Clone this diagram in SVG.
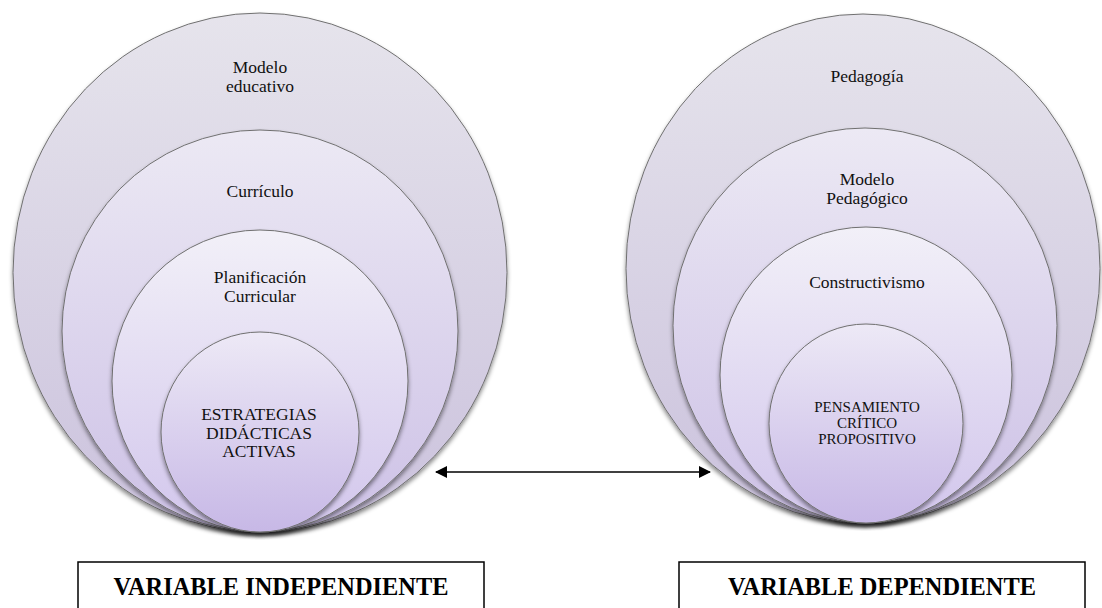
<svg xmlns="http://www.w3.org/2000/svg" width="1102" height="608" viewBox="0 0 1102 608">
<defs>
<linearGradient id="g1" x1="0" y1="0" x2="0" y2="1">
<stop offset="0" stop-color="#e6e4ec"/>
<stop offset="1" stop-color="#cbc2dd"/>
</linearGradient>
<linearGradient id="g2" x1="0" y1="0" x2="0" y2="1">
<stop offset="0" stop-color="#ece9f4"/>
<stop offset="1" stop-color="#cdc1e6"/>
</linearGradient>
<linearGradient id="g3" x1="0" y1="0" x2="0" y2="1">
<stop offset="0" stop-color="#f2f0f8"/>
<stop offset="1" stop-color="#d2c6ec"/>
</linearGradient>
<linearGradient id="g4" x1="0" y1="0" x2="0" y2="1">
<stop offset="0" stop-color="#ede9f6"/>
<stop offset="1" stop-color="#c7b8e6"/>
</linearGradient>
<filter id="sh" x="-10%" y="-10%" width="120%" height="125%">
<feDropShadow dx="0" dy="3" stdDeviation="2" flood-color="#000" flood-opacity="0.45"/>
</filter>
<marker id="ah" viewBox="0 0 12 12" refX="11" refY="6" markerWidth="12" markerHeight="12" markerUnits="userSpaceOnUse" orient="auto-start-reverse">
<path d="M0,0 L12,6 L0,12 Z" fill="#000"/>
</marker>
</defs>
<style>
.c{stroke:#707070;stroke-width:1;filter:url(#sh)}
.t{font-family:"Liberation Serif","Times New Roman",serif;font-size:17.5px;fill:#111;text-anchor:middle}
.s{font-family:"Liberation Serif","Times New Roman",serif;font-size:15px;fill:#111;text-anchor:middle}
.b{font-family:"Liberation Serif","Times New Roman",serif;font-size:24.4px;font-weight:bold;fill:#000;text-anchor:middle}
.box{fill:#fff;stroke:#000;stroke-width:1.5}
</style>
<rect width="1102" height="608" fill="#fff"/>

<g id="left-set">
<g id="modelo-educativo">
<ellipse class="c" cx="260" cy="272.5" rx="247" ry="259.5" fill="url(#g1)"/>
<text class="t" x="260" y="73">Modelo</text>
<text class="t" x="260" y="92">educativo</text>
</g>
<g id="curriculo">
<ellipse class="c" cx="260" cy="331" rx="198" ry="201" fill="url(#g2)"/>
<text class="t" x="260" y="197">Currículo</text>
</g>
<g id="planificacion">
<ellipse class="c" cx="260" cy="381" rx="148" ry="151" fill="url(#g3)"/>
<text class="t" x="260" y="283">Planificación</text>
<text class="t" x="260" y="302">Curricular</text>
</g>
<g id="estrategias">
<ellipse class="c" cx="260" cy="432" rx="99" ry="100" fill="url(#g4)"/>
<text class="t" x="259" y="420">ESTRATEGIAS</text>
<text class="t" x="259" y="439">DIDÁCTICAS</text>
<text class="t" x="259" y="457">ACTIVAS</text>
</g>
</g>

<g id="right-set">
<g id="pedagogia">
<ellipse class="c" cx="863" cy="268.5" rx="237" ry="254.5" fill="url(#g1)"/>
<text class="t" x="867" y="82">Pedagogía</text>
</g>
<g id="modelo-pedagogico">
<ellipse class="c" cx="865" cy="325.5" rx="192" ry="197.5" fill="url(#g2)"/>
<text class="t" x="867" y="185">Modelo</text>
<text class="t" x="867" y="204">Pedagógico</text>
</g>
<g id="constructivismo">
<ellipse class="c" cx="866" cy="375" rx="146" ry="148" fill="url(#g3)"/>
<text class="t" x="867" y="288">Constructivismo</text>
</g>
<g id="pensamiento">
<ellipse class="c" cx="866" cy="423.5" rx="97" ry="99.5" fill="url(#g4)"/>
<text class="s" x="867" y="412">PENSAMIENTO</text>
<text class="s" x="867" y="428">CRÍTICO</text>
<text class="s" x="867" y="444">PROPOSITIVO</text>
</g>
</g>

<g id="connectors">
<line x1="436" y1="472" x2="710" y2="472" stroke="#000" stroke-width="1.6" marker-start="url(#ah)" marker-end="url(#ah)"/>
</g>

<g id="box-independiente">
<rect class="box" x="78" y="562" width="406" height="60"/>
<text class="b" x="281" y="595">VARIABLE INDEPENDIENTE</text>
</g>
<g id="box-dependiente">
<rect class="box" x="679" y="562" width="406" height="60"/>
<text class="b" x="882" y="595">VARIABLE DEPENDIENTE</text>
</g>
</svg>
